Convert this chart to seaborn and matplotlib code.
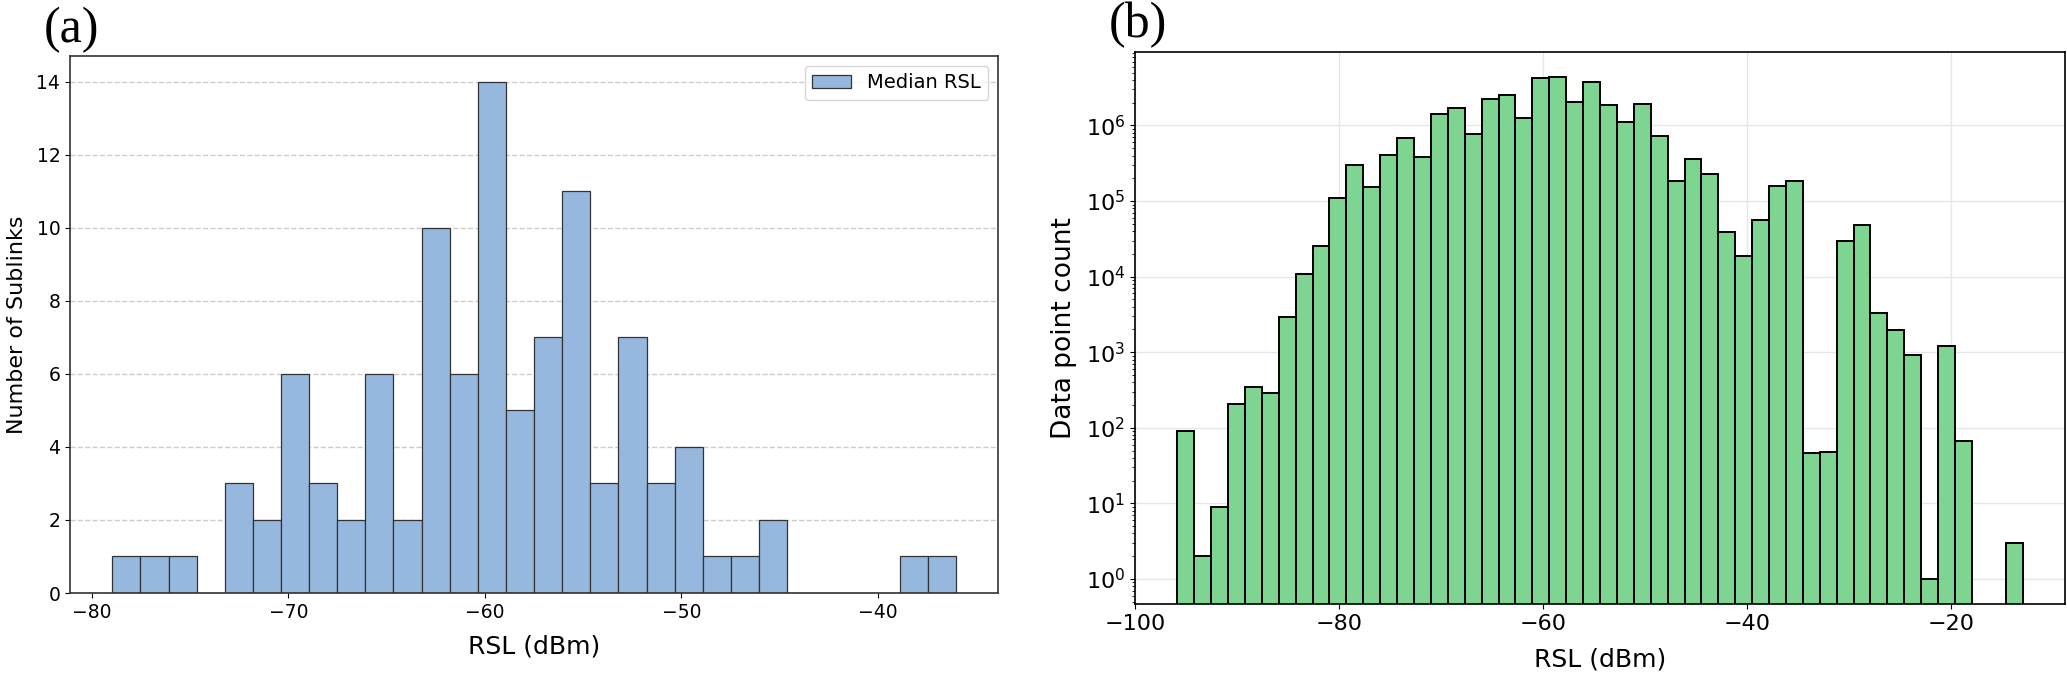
import numpy as np
import pandas as pd
import matplotlib
matplotlib.use('Agg')
import matplotlib.pyplot as plt
from matplotlib.ticker import MultipleLocator
import seaborn as sns

# (a) median RSL per sublink, 30 bins
a_min, a_max, a_bins = -78.96, -36.03, 30
a_counts = [1, 1, 1, 0, 3, 2, 6, 3, 2, 6, 2, 10, 6, 14, 5, 7, 11, 3, 7, 3,
            4, 1, 1, 2, 0, 0, 0, 0, 1, 1]

# (b) all RSL data points, 50 bins, log counts
b_min, b_max, b_bins = -95.86, -12.97, 50
b_counts = [90, 2, 9, 205, 350, 285, 2900, 10800, 25700, 110000,
            300000, 154000, 405000, 680000, 380000, 1410000, 1720000, 780000, 2220000, 2500000,
            1240000, 4200000, 4360000, 2050000, 3800000, 1840000, 1110000, 1920000, 728000, 183000,
            365000, 229000, 38700, 18700, 55400, 158000, 183000, 46, 48, 30000,
            48600, 3330, 1950, 905, 1, 1200, 66, 0, 0, 3]

edges_a = np.linspace(a_min, a_max, a_bins + 1)
df_a = pd.DataFrame({'rsl': (edges_a[:-1] + edges_a[1:]) / 2, 'n': a_counts})
edges_b = np.linspace(b_min, b_max, b_bins + 1)
df_b = pd.DataFrame({'rsl': (edges_b[:-1] + edges_b[1:]) / 2, 'n': b_counts})

fig = plt.figure(figsize=(20.67, 6.85), dpi=100)
ax1 = fig.add_axes([0.0339, 0.1343, 0.449, 0.784])
ax2 = fig.add_axes([0.5491, 0.1182, 0.4499, 0.8058])

# left panel
sns.histplot(data=df_a, x='rsl', weights='n', bins=edges_a.tolist(), color='#97B8DE',
             edgecolor='#333333', linewidth=0.9, alpha=1, label='Median RSL', ax=ax1)
ax1.set_xlabel('RSL (dBm)', fontsize=18, labelpad=9)
ax1.set_ylabel('Number of Sublinks', fontsize=16, labelpad=7)
ax1.tick_params(labelsize=13.5)
ax1.xaxis.set_major_locator(MultipleLocator(10))
ax1.yaxis.set_major_locator(MultipleLocator(2))
ax1.grid(axis='y', linestyle='--', color='#cccccc', lw=1)
ax1.set_axisbelow(True)
for s in ax1.spines.values():
    s.set_color('#333333')
    s.set_linewidth(1.2)
ax1.legend(loc='upper right', fontsize=14)

# right panel
sns.histplot(data=df_b, x='rsl', weights='n', bins=edges_b.tolist(), color='#7DD591',
             edgecolor='black', linewidth=1.4, alpha=1, ax=ax2)
ax2.set_yscale('log')
ax2.set_xlabel('RSL (dBm)', fontsize=18, labelpad=10)
ax2.set_ylabel('Data point count', fontsize=19, labelpad=6)
ax2.tick_params(labelsize=16)
ax2.xaxis.set_major_locator(MultipleLocator(20))
ax2.grid(True, color='#e6e6e6', lw=1)
ax2.set_axisbelow(True)
for s in ax2.spines.values():
    s.set_linewidth(1.2)

fig.text(0.0348, 0.956, '(a)', family='Liberation Serif', fontsize=36, ha='center', va='center')
fig.text(0.5505, 0.963, '(b)', family='Liberation Serif', fontsize=36, ha='center', va='center')

fig.savefig('out.png', dpi=100)
